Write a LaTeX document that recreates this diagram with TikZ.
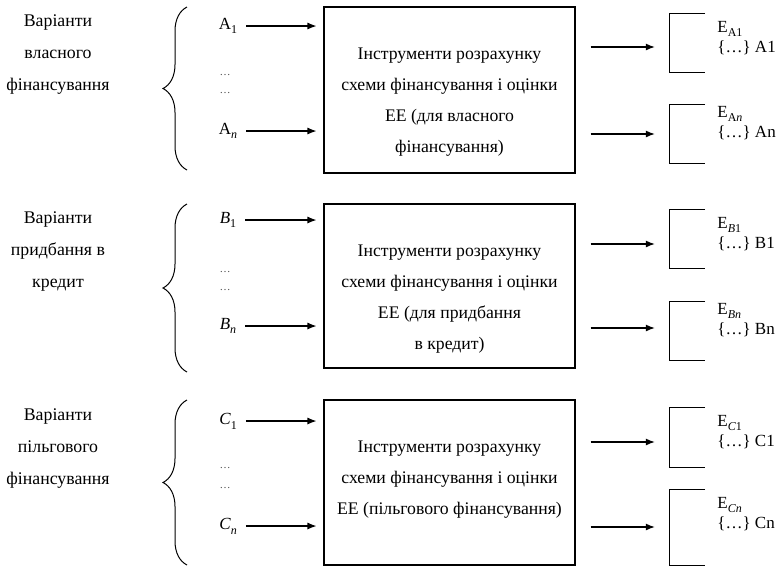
\documentclass[tikz,border=0pt]{standalone}
\usepackage{fontspec}
\setmainfont{Liberation Serif}
\usepackage{tikz}
\usetikzlibrary{arrows.meta,positioning,decorations.pathreplacing}
\newcommand{\idx}[1]{\raisebox{-0.28em}{\fontsize{12}{12}\selectfont #1}}
\tikzset{
	basic/.style = {inner sep=3pt, align=center},
	variant/.style = {basic, font=\fontsize{17.8}{32}\selectfont},
	tool/.style = {draw, line width=1.1pt, minimum width=251pt, inner sep=0pt},
	tooltext/.style = {basic, anchor=north, font=\fontsize{17.7}{31}\selectfont},
	item/.style = {basic, font=\fontsize{17}{20}\selectfont},
	dots/.style = {basic, font=\fontsize{11}{20}\selectfont, text=black!70},
	bracket/.style = {minimum width=35pt, inner sep=0pt},
	bracket line/.style = {line width=1.1pt},
	result/.style = {basic, align=left, anchor=north west, font=\fontsize{17}{20}\selectfont},
	choice/.style = {decorate, decoration={brace, amplitude=24pt}, line width=1pt},
	arrow in/.style = {-{Latex[length=9pt,width=7pt]}, line width=1.1pt, shorten <=6pt, shorten >=7pt},
	arrow out/.style = {-{Latex[length=9pt,width=7pt]}, line width=1.1pt, shorten <=15pt, shorten >=15pt}
}
\begin{document}
\begin{tikzpicture}[x=1pt, y=-1pt]
	\useasboundingbox (0,0) rectangle (779,566);
	
	% first group, own financing
	\node[variant] (v1) at (58,55) {Варіанти\\власного\\фінансування};
	\draw[choice] (187,170) -- (187,7);
	\node[item] (a1) at (228,26) {A\idx{1}};
	\node[dots] (a2) at (225,75) {…};
	\node[dots] (a3) at (225,93) {…};
	\node[item] (an) at (228,131) {A\idx{\textit{n}}};
	\node[tool, minimum height=166pt] (t1) at (449.5,90) {};
	\node[tooltext, below=38pt of t1.north] (t1txt) {Інструменти розрахунку\\схеми фінансування і оцінки\\ЕЕ (для власного\\фінансування)};
	\draw[arrow in] (a1.east) -- (a1.east -| t1.west);
	\draw[arrow in] (an.east) -- (an.east -| t1.west);
	\node[bracket, minimum height=58pt] (e1) at (687.5,43) {};
	\node[bracket, minimum height=58pt] (e2) at (687.5,134) {};
	\draw[bracket line] (e1.north east) -- (e1.north west) -- (e1.south west) -- (e1.south east);
	\draw[bracket line] (e2.north east) -- (e2.north west) -- (e2.south west) -- (e2.south east);
	\draw[arrow out] ([yshift=-4pt]e1.west -| t1.east) -- ([yshift=-4pt]e1.west);
	\draw[arrow out] (e2.west -| t1.east) -- (e2.west);
	\node[result] (r1) at ([xshift=9pt,yshift=-4pt]e1.north east) {E\idx{A1}\\\{…\} A1};
	\node[result] (r2) at ([xshift=9pt,yshift=2pt]e2.north east) {E\idx{A\textit{n}}\\\{…\} An};
	
	% second group, purchase on credit
	\node[variant] (v2) at (58,251) {Варіанти\\придбання в\\кредит};
	\draw[choice] (187,372) -- (187,204);
	\node[item] (b1) at (228,220) {\textit{B}\idx{1}};
	\node[dots] (b2) at (225,272) {…};
	\node[dots] (b3) at (225,290) {…};
	\node[item] (bn) at (228,326) {\textit{B}\idx{\textit{n}}};
	\node[tool, minimum height=164pt] (t2) at (449.5,286) {};
	\node[tooltext, below=38pt of t2.north] (t2txt) {Інструменти розрахунку\\схеми фінансування і оцінки\\ЕЕ (для придбання\\в кредит)};
	\draw[arrow in] (b1.east) -- (b1.east -| t2.west);
	\draw[arrow in] (bn.east) -- (bn.east -| t2.west);
	\node[bracket, minimum height=58pt] (e3) at (687.5,239) {};
	\node[bracket, minimum height=58pt] (e4) at (687.5,331) {};
	\draw[bracket line] (e3.north east) -- (e3.north west) -- (e3.south west) -- (e3.south east);
	\draw[bracket line] (e4.north east) -- (e4.north west) -- (e4.south west) -- (e4.south east);
	\draw[arrow out] ([yshift=-5pt]e3.west -| t2.east) -- ([yshift=-5pt]e3.west);
	\draw[arrow out] ([yshift=3pt]e4.west -| t2.east) -- ([yshift=3pt]e4.west);
	\node[result] (r3) at ([xshift=9pt,yshift=-4pt]e3.north east) {E\idx{\textit{B}1}\\\{…\} B1};
	\node[result] (r4) at ([xshift=9pt,yshift=2pt]e4.north east) {E\idx{\textit{Bn}}\\\{…\} Bn};
	
	% third group, preferential financing
	\node[variant] (v3) at (58,449) {Варіанти\\пільгового\\фінансування};
	\draw[choice] (187,565) -- (187,400);
	\node[item] (c1) at (228,421) {\textit{C}\idx{1}};
	\node[dots] (c2) at (225,468) {…};
	\node[dots] (c3) at (225,488) {…};
	\node[item] (cn) at (228,526) {\textit{C}\idx{\textit{n}}};
	\node[tool, minimum height=165pt] (t3) at (449.5,482.5) {};
	\node[tooltext, below=38pt of t3.north] (t3txt) {Інструменти розрахунку\\схеми фінансування і оцінки\\ЕЕ (пільгового фінансування)};
	\draw[arrow in] (c1.east) -- (c1.east -| t3.west);
	\draw[arrow in] (cn.east) -- (cn.east -| t3.west);
	\node[bracket, minimum height=59pt] (e5) at (687.5,437.5) {};
	\node[bracket, minimum height=75pt] (e6) at (687.5,527.5) {};
	\draw[bracket line] (e5.north east) -- (e5.north west) -- (e5.south west) -- (e5.south east);
	\draw[bracket line] (e6.north east) -- (e6.north west) -- (e6.south west) -- (e6.south east);
	\draw[arrow out] ([yshift=-4.5pt]e5.west -| t3.east) -- ([yshift=-4.5pt]e5.west);
	\draw[arrow out] ([yshift=0.5pt]e6.west -| t3.east) -- ([yshift=0.5pt]e6.west);
	\node[result] (r5) at ([xshift=9pt,yshift=-4pt]e5.north east) {E\idx{\textit{C}1}\\\{…\} C1};
	\node[result] (r6) at ([xshift=9pt,yshift=-4pt]e6.north east) {E\idx{\textit{Cn}}\\\{…\} Cn};
\end{tikzpicture}
\end{document}
